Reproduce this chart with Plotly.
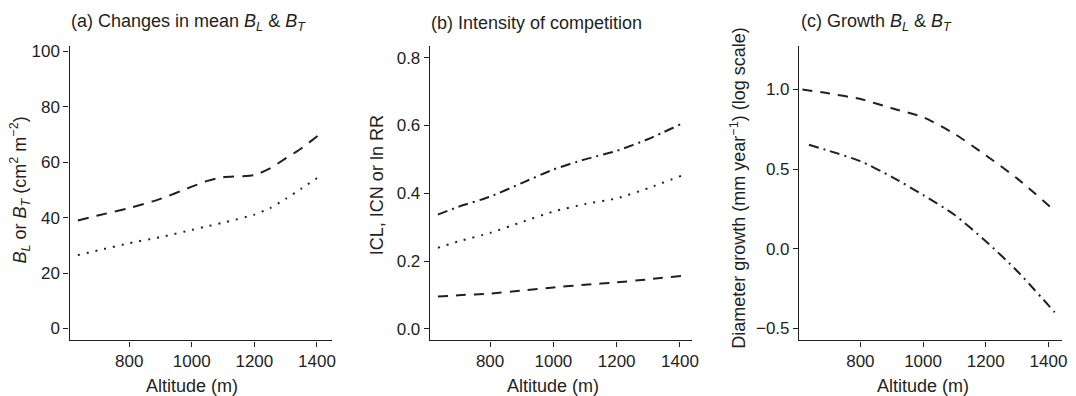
import plotly.graph_objects as go

W, H = 1076, 396
INK = "#231f20"
FONT = "Liberation Sans, Arial, Helvetica, sans-serif"

# ---- data ----
alt_a = [636, 700, 800, 900, 1000, 1050, 1100, 1200, 1250, 1300, 1350, 1419]
a_dashed = [39.0, 40.8, 43.5, 46.8, 51.2, 53.3, 54.6, 55.4, 57.8, 61.4, 65.0, 71.0]
a_dotted = [26.5, 28.2, 30.8, 33.0, 35.6, 36.9, 38.2, 41.1, 43.5, 46.8, 50.5, 55.7]

alt_b = [635, 700, 800, 900, 1000, 1100, 1200, 1300, 1405]
b_dashdot = [0.337, 0.360, 0.390, 0.430, 0.470, 0.500, 0.525, 0.560, 0.605]
b_dotted = [0.239, 0.258, 0.283, 0.315, 0.346, 0.368, 0.385, 0.415, 0.452]
b_dashed = [0.095, 0.099, 0.104, 0.113, 0.122, 0.130, 0.137, 0.146, 0.156]

alt_c_dashed = [615, 700, 800, 900, 1000, 1100, 1200, 1300, 1420]
c_dashed = [1.0, 0.975, 0.94, 0.882, 0.826, 0.722, 0.587, 0.442, 0.239]
alt_c_dashdot = [636, 700, 800, 900, 1000, 1100, 1200, 1300, 1420]
c_dashdot = [0.653, 0.615, 0.55, 0.452, 0.338, 0.214, 0.048, -0.139, -0.398]

ticks_a = [0, 20, 40, 60, 80, 100]
ticks_b = [0.0, 0.2, 0.4, 0.6, 0.8]
ticks_c = [-0.5, 0.0, 0.5, 1.0]
ticks_x = [800, 1000, 1200, 1400]

DASH = "10px,8px"
DOT = "2px,7px"
DASHDOT = "10px,5px,2px,5px"

TICK_SIZE = 17
TEXT_SIZE = 18

fig = go.Figure()

def add(x, y, dash, ax):
    fig.add_trace(go.Scatter(x=x, y=y, mode="lines",
                             line=dict(color=INK, width=2, dash=dash, shape="spline", smoothing=0.6),
                             xaxis="x" + ax, yaxis="y" + ax, showlegend=False, hoverinfo="skip"))

add(alt_a, a_dashed, "11px,8px", "")
add(alt_a, a_dotted, DOT, "")
add(alt_b, b_dashdot, DASHDOT, "2")
add(alt_b, b_dotted, DOT, "2")
add(alt_b, b_dashed, DASH, "2")
add(alt_c_dashed, c_dashed, DASH, "3")
add(alt_c_dashdot, c_dashdot, DASHDOT, "3")

ydom = [(396 - 340) / H, (396 - 43.3) / H]
tickfont = dict(family=FONT, size=TICK_SIZE, color=INK)

def xax(l, r, rng, anchor):
    return dict(domain=[l / W, r / W], range=rng, anchor=anchor, tickvals=ticks_x, ticks="outside", ticklen=5,
                tickwidth=1.3, tickcolor=INK, showline=True, linecolor=INK, linewidth=1.3, showgrid=False,
                zeroline=False, tickfont=tickfont)

def yax(rng, tv, fmt, anchor):
    return dict(domain=ydom, range=rng, anchor=anchor, tickvals=tv, tickformat=fmt, ticks="outside", ticklen=5,
                tickwidth=1.3, tickcolor=INK, showline=True, linecolor=INK, linewidth=1.3, showgrid=False,
                zeroline=False, tickfont=tickfont)

fig.update_layout(
    width=W, height=H, margin=dict(l=0, r=0, t=0, b=0),
    paper_bgcolor="white", plot_bgcolor="white",
    font=dict(family=FONT, color=INK, size=TEXT_SIZE),
    xaxis=xax(70, 334, [609.5, 1447.6], "y"),
    yaxis=yax([-4.3, 102.0], ticks_a, "d", "x"),
    xaxis2=xax(432.7, 696.7, [609.7, 1438.6], "y2"),
    yaxis2=yax([-0.0343, 0.8346], ticks_b, ".1f", "x2"),
    xaxis3=xax(804.3, 1069.3, [604.4, 1444.4], "y3"),
    yaxis3=yax([-0.575, 1.273], ticks_c, ".1f", "x3"),
)

def ann(text, x, y, angle=0, xanchor="center", size=TEXT_SIZE):
    fig.add_annotation(text=text, x=x / W, y=1 - y / H, xref="paper", yref="paper", showarrow=False,
                       textangle=angle, xanchor=xanchor, yanchor="middle",
                       font=dict(family=FONT, size=size, color=INK))

ann("(a) Changes in mean <i>B</i><sub><i>L</i></sub> &amp; <i>B</i><sub><i>T</i></sub>", 69, 20, xanchor="left")
ann("(b) Intensity of competition", 432, 20, xanchor="left")
ann("(c) Growth <i>B</i><sub><i>L</i></sub> &amp; <i>B</i><sub><i>T</i></sub>", 804, 20, xanchor="left")

ann("Altitude (m)", 193, 386)
ann("Altitude (m)", 557, 386)
ann("Altitude (m)", 929, 386)

ann("<i>B</i><sub><i>L</i></sub> or <i>B</i><sub><i>T</i></sub> (cm<sup>2</sup> m<sup>\u22122</sup>)", 20, 188, angle=-90)
ann("ICL, ICN or ln RR", 379, 184, angle=-90)
ann("Diameter growth (mm year<sup>\u22121</sup>) (log scale)", 743, 187, angle=-90)

fig.write_html("out.html")
